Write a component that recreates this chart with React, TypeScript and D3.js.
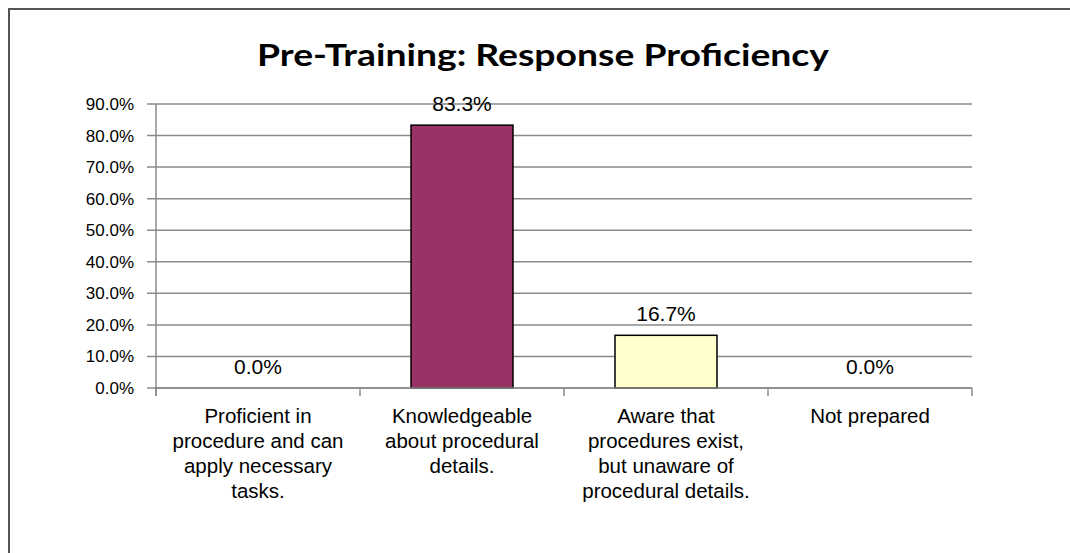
import React from "react";
import * as d3 from "d3";

const title = "Pre-Training: Response Proficiency";
const categories = [
  "Proficient in|procedure and can|apply necessary|tasks.",
  "Knowledgeable|about procedural|details.",
  "Aware that|procedures exist,|but unaware of|procedural details.",
  "Not prepared",
];
const values = [0.0, 0.833, 0.167, 0.0];
const barColors = ["#993366", "#993366", "#FFFFCC", "#FFFFCC"];
const yTicks = [0, 0.1, 0.2, 0.3, 0.4, 0.5, 0.6, 0.7, 0.8, 0.9];

const W = 1070;
const H = 553;
const left = 156;
const right = 972;
const top = 104;
const bottom = 388;

export default function App() {
  const x = d3.scaleBand<number>().domain(d3.range(categories.length)).range([left, right]).paddingInner(0).paddingOuter(0);
  const y = d3.scaleLinear().domain([0, 0.9]).range([bottom, top]);
  const fmt = d3.format(".1%");
  const bw = x.bandwidth();
  const barW = bw / 2;
  const boundaries = d3.range(categories.length + 1).map((i) => left + i * bw);
  const font = "'Liberation Sans', Arial, sans-serif";

  return (
    <svg width={W} height={H} style={{ position: "absolute", left: 0, top: 0, background: "#fff" }}>
      <rect x={0} y={0} width={W} height={H} fill="#fff" />
      <rect x={9} y={9} width={1200} height={700} fill="none" stroke="#555" strokeWidth={2} />
      <text
        x={543}
        y={66}
        textAnchor="middle"
        fontFamily="Lato, 'Open Sans', sans-serif"
        fontWeight="bold"
        fontSize={30}
        textLength={572}
        lengthAdjust="spacingAndGlyphs"
        fill="#000"
      >
        {title}
      </text>
      {/* gridlines */}
      {yTicks.map((t) => (
        <line key={"g" + t} x1={left - 9} x2={right} y1={y(t)} y2={y(t)} stroke="#8a8a8a" strokeWidth={1.5} />
      ))}
      {/* y axis */}
      <line x1={left} x2={left} y1={top} y2={bottom + 8} stroke="#8a8a8a" strokeWidth={1.5} />
      {yTicks.map((t) => (
        <text key={"t" + t} x={134} y={y(t) + 6} textAnchor="end" fontFamily={font} fontSize={17} fill="#000">
          {fmt(t)}
        </text>
      ))}
      {/* x tick marks */}
      {boundaries.map((b, i) => (
        <line key={"xt" + i} x1={b} x2={b} y1={bottom} y2={bottom + 8} stroke="#8a8a8a" strokeWidth={1.5} />
      ))}
      {/* bars */}
      {values.map((v, i) => {
        const cx = (x(i) as number) + bw / 2;
        return (
          <g key={"b" + i}>
            {v > 0 && (
              <rect
                x={cx - barW / 2}
                y={y(v)}
                width={barW}
                height={bottom - y(v)}
                fill={barColors[i]}
                stroke="#000"
                strokeWidth={1.5}
              />
            )}
            <text x={cx} y={y(v) - 14} textAnchor="middle" fontFamily={font} fontSize={21} fill="#000">
              {fmt(v)}
            </text>
          </g>
        );
      })}
      {/* x axis line */}
      <line x1={left} x2={right} y1={bottom} y2={bottom} stroke="#8a8a8a" strokeWidth={1.5} />
      {/* category labels */}
      {categories.map((c, i) => {
        const cx = (x(i) as number) + bw / 2;
        return (
          <text key={"c" + i} textAnchor="middle" fontFamily={font} fontSize={20.5} fill="#000">
            {c.split("|").map((line, j) => (
              <tspan key={j} x={cx} y={423 + j * 25}>
                {line}
              </tspan>
            ))}
          </text>
        );
      })}
    </svg>
  );
}
